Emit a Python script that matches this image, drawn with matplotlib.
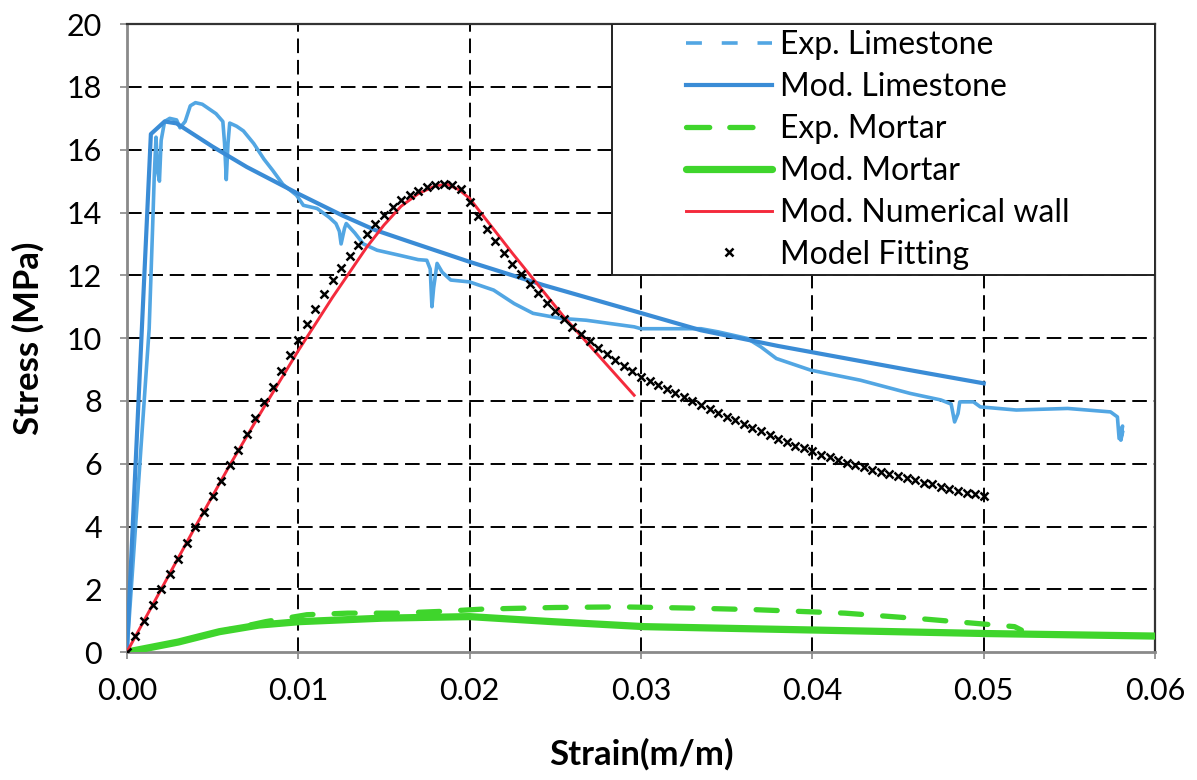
import matplotlib
matplotlib.use("Agg")
import matplotlib.pyplot as plt
from matplotlib.lines import Line2D
from matplotlib.patches import Rectangle
import numpy as np

plt.rcParams['font.family'] = ['Lato', 'DejaVu Sans']

# --- data ---
# Exp. Limestone (noisy test curve)
exp_lime_x = [0.0, 0.0013, 0.0015, 0.0016, 0.0017, 0.0018, 0.0019, 0.0020, 0.0022, 0.0025,
              0.0029, 0.0031, 0.0034, 0.0037, 0.0040, 0.0044, 0.0048, 0.0052, 0.0056, 0.0057,
              0.0058, 0.0059, 0.0060, 0.0064, 0.0068, 0.0074, 0.0080, 0.0085, 0.0091, 0.0099,
              0.0103, 0.0111, 0.0118, 0.0122, 0.0124, 0.0125, 0.0127, 0.0128, 0.0133, 0.0138,
              0.0146, 0.0159, 0.0170, 0.0175, 0.0177, 0.0178, 0.0179, 0.0181, 0.0184, 0.0189,
              0.0200, 0.0214, 0.0226, 0.0237, 0.0253, 0.0268, 0.0296, 0.0300, 0.0335, 0.0345,
              0.0362, 0.0370, 0.0379, 0.0399, 0.0428, 0.0457, 0.0475, 0.0481, 0.0483, 0.0485,
              0.0486, 0.0494, 0.0498, 0.0519, 0.0549, 0.0574, 0.0578, 0.0579, 0.0581, 0.0580,
              0.0581]
exp_lime_y = [0.0, 10.3, 13.5, 15.2, 16.4, 15.3, 15.0, 16.3, 16.9, 17.0,
              16.95, 16.7, 16.9, 17.4, 17.5, 17.45, 17.3, 17.15, 16.9, 16.2,
              15.05, 16.2, 16.85, 16.75, 16.6, 16.2, 15.7, 15.35, 14.9, 14.55,
              14.23, 14.13, 13.85, 13.65, 13.4, 13.0, 13.5, 13.65, 13.35, 13.0,
              12.8, 12.64, 12.5, 12.48, 12.2, 11.0, 11.6, 12.38, 12.1, 11.85,
              11.79, 11.53, 11.1, 10.79, 10.63, 10.57, 10.36, 10.3, 10.3, 10.2,
              9.99, 9.72, 9.35, 8.98, 8.66, 8.24, 8.03, 7.9, 7.33, 7.6,
              7.97, 7.97, 7.81, 7.71, 7.76, 7.65, 7.49, 6.8, 7.2, 6.75,
              7.0]

# Mod. Limestone
mod_lime_x = [0.0, 0.0014, 0.0022, 0.0029, 0.0050, 0.0070, 0.0100, 0.0126, 0.0145, 0.0165,
              0.0200, 0.0243, 0.0300, 0.0335, 0.0380, 0.0420, 0.0460, 0.0500]
mod_lime_y = [0.0, 16.5, 16.9, 16.84, 16.1, 15.45, 14.6, 13.9, 13.44, 13.07,
              12.43, 11.69, 10.8, 10.25, 9.75, 9.35, 8.95, 8.56]

# Exp. Mortar
exp_mort_x = [0.0, 0.003, 0.0054, 0.0081, 0.0105, 0.0129, 0.0157, 0.0185, 0.0208, 0.0250,
              0.0288, 0.0330, 0.0367, 0.0419, 0.0466, 0.0494, 0.0518, 0.0522]
exp_mort_y = [0.0, 0.32, 0.65, 0.97, 1.19, 1.24, 1.24, 1.30, 1.37, 1.42,
              1.44, 1.40, 1.35, 1.24, 1.05, 0.92, 0.81, 0.70]

# Mod. Mortar
mod_mort_x = [0.0, 0.003, 0.0054, 0.0077, 0.0101, 0.0149, 0.0200, 0.0248, 0.0302, 0.0403,
              0.0502, 0.0600]
mod_mort_y = [0.0, 0.32, 0.65, 0.86, 0.97, 1.08, 1.13, 0.97, 0.81, 0.70,
              0.59, 0.51]

# Mod. Numerical wall
wall_x = [0.0, 0.002, 0.004, 0.006, 0.008, 0.010, 0.012, 0.014, 0.015, 0.016,
          0.017, 0.018, 0.0187, 0.0194, 0.0200, 0.0225, 0.0255, 0.0296]
wall_y = [0.0, 2.0, 4.0, 5.95, 7.8, 9.6, 11.3, 12.9, 13.6, 14.2,
          14.6, 14.85, 14.9, 14.72, 14.45, 12.7, 10.68, 8.18]

# Model Fitting (one marker every 0.0005 strain)
fit_x = np.linspace(0.0, 0.05, 101)
fit_y = [0.00, 0.50, 1.00, 1.50, 2.00, 2.49, 2.98, 3.48, 3.97, 4.47,
         4.97, 5.46, 5.96, 6.45, 6.95, 7.45, 7.95, 8.45, 8.95, 9.45,
         9.95, 10.45, 10.93, 11.40, 11.84, 12.24, 12.62, 12.98, 13.32, 13.63,
         13.92, 14.17, 14.39, 14.56, 14.70, 14.80, 14.88, 14.91, 14.88, 14.74,
         14.33, 13.88, 13.47, 13.09, 12.72, 12.37, 12.03, 11.72, 11.43, 11.13,
         10.85, 10.60, 10.36, 10.13, 9.91, 9.68, 9.48, 9.29, 9.11, 8.94,
         8.77, 8.63, 8.50, 8.38, 8.25, 8.12, 8.00, 7.87, 7.74, 7.62,
         7.50, 7.38, 7.26, 7.15, 7.03, 6.91, 6.80, 6.69, 6.58, 6.49,
         6.39, 6.29, 6.20, 6.11, 6.03, 5.95, 5.88, 5.81, 5.74, 5.67,
         5.60, 5.53, 5.47, 5.40, 5.34, 5.27, 5.21, 5.14, 5.08, 5.03,
         4.97]

x_ticks = [0.0, 0.01, 0.02, 0.03, 0.04, 0.05, 0.06]
y_ticks = [0, 2, 4, 6, 8, 10, 12, 14, 16, 18, 20]

c_exp_lime = '#52A6E3'
c_mod_lime = '#3A8CD6'
c_green = '#3FD52C'
c_red = '#F42A3C'

fig = plt.figure(figsize=(11.97, 7.80), dpi=100)
ax = fig.add_axes([0.106, 0.164, 0.859, 0.805])

# grid
for xv in x_ticks[1:-1]:
    ax.axvline(xv, color='black', lw=1.4, dashes=(7.5, 3.5), zorder=1)
for yv in y_ticks[1:-1]:
    ax.axhline(yv, color='black', lw=1.4, dashes=(7.5, 3.5), zorder=1)

# curves
ax.plot(exp_lime_x, exp_lime_y, color=c_exp_lime, lw=2.6, zorder=3)
ax.plot(mod_lime_x, mod_lime_y, color=c_mod_lime, lw=3.0, zorder=3)
ax.plot(exp_mort_x, exp_mort_y, color=c_green, lw=3.8, dashes=(4.0, 4.0),
        dash_capstyle='round', zorder=3)
ax.plot(mod_mort_x, mod_mort_y, color=c_green, lw=5.2, solid_capstyle='round', zorder=3)
ax.plot(wall_x, wall_y, color=c_red, lw=2.1, zorder=4)
ax.plot(fit_x, fit_y, linestyle='none', marker='x', color='black',
        markersize=6, markeredgewidth=1.8, zorder=5)

ax.set_xlim(0, 0.06)
ax.set_ylim(0, 20)
ax.set_xticks(x_ticks)
ax.set_xticklabels(['%.2f' % v for v in x_ticks])
ax.set_yticks(y_ticks)
ax.tick_params(axis='both', labelsize=22, colors='#888888', labelcolor='black',
               length=5, width=1.2, direction='out')
ax.tick_params(axis='x', pad=13)
ax.tick_params(axis='y', pad=13)

for side in ['left', 'bottom']:
    ax.spines[side].set_color('#8a8a8a')
    ax.spines[side].set_linewidth(2.0)
for side in ['top', 'right']:
    ax.spines[side].set_color('#333333')
    ax.spines[side].set_linewidth(1.6)

ax.set_ylabel('Stress (MPa)', fontsize=25, fontweight='bold', labelpad=16)
ax.set_xlabel('Strain(m/m)', fontsize=25, fontweight='bold', labelpad=24)

# legend box (fixed size as in the original)
box = Rectangle((0.472, 0.600), 0.528, 0.400, transform=ax.transAxes,
                facecolor='white', edgecolor='#222222', lw=1.4, zorder=6)
ax.add_patch(box)

handles = [
    Line2D([], [], color=c_exp_lime, lw=2.6, dashes=(4.4, 5.5)),
    Line2D([], [], color=c_mod_lime, lw=3.0),
    Line2D([], [], color=c_green, lw=3.8, dashes=(4.4, 3.8), dash_capstyle='round'),
    Line2D([], [], color=c_green, lw=5.2, solid_capstyle='round'),
    Line2D([], [], color=c_red, lw=2.1),
    Line2D([], [], linestyle='none', marker='x', color='black', markersize=6,
           markeredgewidth=1.8),
]
labels = ['Exp. Limestone', 'Mod. Limestone', 'Exp. Mortar', 'Mod. Mortar',
          'Mod. Numerical wall', 'Model Fitting']
leg = ax.legend(handles, labels, loc='upper left', bbox_to_anchor=(0.544, 0.99),
                frameon=False, fontsize=23, handlelength=2.67, handletextpad=0.25,
                labelspacing=0.37, borderpad=0, borderaxespad=0)
leg.set_zorder(7)

fig.savefig('out.png', dpi=100)
